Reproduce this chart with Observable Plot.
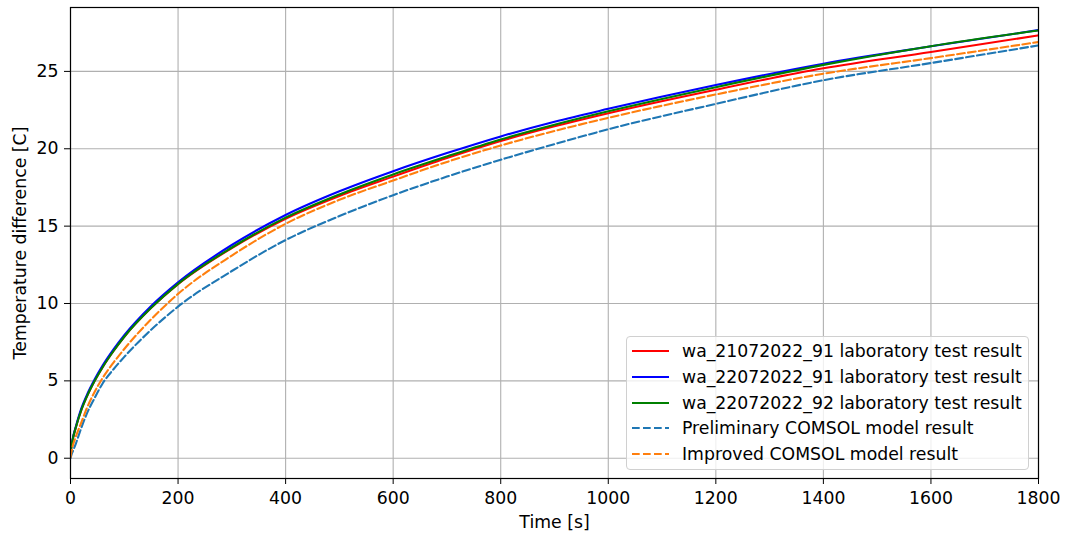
<!DOCTYPE html>
<html><head><meta charset="utf-8">
<script src="https://cdn.jsdelivr.net/npm/d3@7"></script>
<script src="https://cdn.jsdelivr.net/npm/@observablehq/plot@0.6"></script>
<style>
body{margin:0;background:#fff;}
#wrap{position:relative;width:1065px;height:535px;font-family:"DejaVu Sans",sans-serif;}
#legend{position:absolute;left:626px;top:336px;width:401px;height:132px;border:1px solid #d0d0d0;border-radius:4px;background:rgba(255,255,255,0.8);}
.row{position:absolute;left:0;height:20px;display:flex;align-items:center;font-size:17.3px;color:#000;white-space:nowrap;}
.row svg{margin-left:5px;margin-right:13px;}
</style></head><body><div id="wrap"></div>
<script>
const time = [0, 1, 2, 5, 10, 20, 30, 45, 60, 80, 100, 150, 200, 300, 400, 500, 600, 700, 800, 900, 1000, 1200, 1400, 1600, 1800];
const red21072022_91 = [0.2, 0.55, 0.8, 1.35, 2.0, 3.1, 3.95, 5.0, 5.9, 6.93, 7.85, 9.72, 11.25, 13.58, 15.48, 16.95, 18.2, 19.4, 20.5, 21.45, 22.3, 23.82, 25.2, 26.25, 27.33];
const blue22072022_91 = [0.25, 0.6, 0.85, 1.4, 2.05, 3.2, 4.05, 5.1, 6.0, 7.03, 7.95, 9.84, 11.37, 13.78, 15.72, 17.25, 18.55, 19.72, 20.8, 21.75, 22.58, 24.12, 25.5, 26.62, 27.67];
const green22072022_92 = [0.2, 0.55, 0.8, 1.35, 2.0, 3.1, 3.95, 5.0, 5.9, 6.93, 7.85, 9.72, 11.27, 13.62, 15.55, 17.05, 18.34, 19.5, 20.6, 21.55, 22.42, 23.98, 25.42, 26.63, 27.65];
const preliminary = [0.0, 0.12, 0.25, 0.5, 0.95, 1.95, 2.85, 3.9, 4.85, 5.75, 6.55, 8.3, 9.8, 12.1, 14.1, 15.65, 17.0, 18.2, 19.29, 20.3, 21.26, 22.9, 24.43, 25.54, 26.68];
const improved = [0.05, 0.3, 0.45, 0.9, 1.4, 2.3, 3.2, 4.3, 5.2, 6.18, 7.06, 8.98, 10.62, 13.1, 15.15, 16.7, 17.95, 19.15, 20.21, 21.15, 22.0, 23.51, 24.85, 25.86, 26.9];

const seriesNames = ["wa_21072022_91 laboratory test result", "wa_22072022_91 laboratory test result", "wa_22072022_92 laboratory test result", "Preliminary COMSOL model result", "Improved COMSOL model result"];
const seriesValues = [red21072022_91, blue22072022_91, green22072022_92, preliminary, improved];
const seriesColors = ["#ff0000", "#0000ff", "#008000", "#1f77b4", "#ff7f0e"];
const seriesDashed = [false, false, false, true, true];

const xTicks = [0, 200, 400, 600, 800, 1000, 1200, 1400, 1600, 1800];
const yTicks = [0, 5, 10, 15, 20, 25];

const dash = "7.7,3.3";
const lineMarks = seriesValues.map((vals, i) => {
  const rows = time.map((t, k) => ({t, v: vals[k]}));
  return Plot.line(rows, {x: "t", y: "v", stroke: seriesColors[i], strokeWidth: 2.1,
    strokeDasharray: seriesDashed[i] ? dash : null, curve: "monotone-x", clip: true});
});

const chart = Plot.plot({
  width: 1065, height: 535,
  marginLeft: 70, marginRight: 27, marginTop: 7, marginBottom: 57,
  style: {fontFamily: "DejaVu Sans, sans-serif", fontSize: "17.3px", color: "#000", background: "#fff"},
  x: {domain: [0, 1800]},
  y: {domain: [-1.31, 29.13]},
  marks: [
    Plot.gridX(xTicks, {stroke: "#b0b0b0", strokeOpacity: 1, strokeWidth: 1.1}),
    Plot.gridY(yTicks, {stroke: "#b0b0b0", strokeOpacity: 1, strokeWidth: 1.1}),
    ...lineMarks,
    Plot.frame({stroke: "#000", strokeWidth: 1.2}),
    Plot.axisX({ticks: xTicks, tickFormat: d => String(d), tickSize: 6, tickPadding: 7, label: "Time [s]", labelAnchor: "center", labelArrow: "none", labelOffset: 49, stroke: "#000"}),
    Plot.axisY({ticks: yTicks, tickFormat: d => String(d), tickSize: 6, tickPadding: 6, label: "Temperature difference [C]", labelAnchor: "center", labelArrow: "none", labelOffset: 57, stroke: "#000"})
  ]
});
const wrap = document.getElementById("wrap");
wrap.appendChild(chart);

const legend = document.createElement("div");
legend.id = "legend";
seriesNames.forEach((name, i) => {
  const row = document.createElement("div");
  row.className = "row";
  row.style.top = (4 + i * 25.8) + "px";
  const ns = "http://www.w3.org/2000/svg";
  const sw = document.createElementNS(ns, "svg");
  sw.setAttribute("width", "37"); sw.setAttribute("height", "20");
  const ln = document.createElementNS(ns, "line");
  ln.setAttribute("x1", "0"); ln.setAttribute("x2", "37");
  ln.setAttribute("y1", "10"); ln.setAttribute("y2", "10");
  ln.setAttribute("stroke", seriesColors[i]); ln.setAttribute("stroke-width", "2.1");
  if (seriesDashed[i]) ln.setAttribute("stroke-dasharray", dash);
  sw.appendChild(ln);
  row.appendChild(sw);
  const tx = document.createElement("span");
  tx.textContent = name;
  row.appendChild(tx);
  legend.appendChild(row);
});
wrap.appendChild(legend);
</script>
</body></html>
